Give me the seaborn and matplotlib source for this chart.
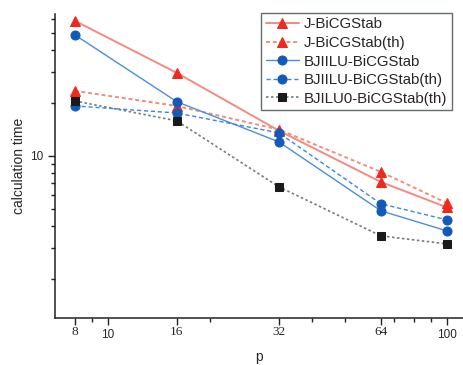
import matplotlib
matplotlib.use("Agg")
import matplotlib.pyplot as plt
import matplotlib.ticker as mticker
import seaborn as sns

sns.set_style("ticks")
plt.rcParams['font.family'] = ['Liberation Sans', 'DejaVu Sans']

# data (log-log)
p = [8, 16, 32, 64, 100]
j_bicg = [58.5, 29.6, 13.9, 7.1, 5.1]
j_bicg_th = [23.4, 19.2, 14.1, 8.1, 5.4]
bjiilu = [48.7, 20.3, 12.0, 4.87, 3.75]
bjiilu_th = [19.2, 17.5, 13.5, 5.34, 4.33]
bjilu0_th = [20.5, 15.8, 6.67, 3.51, 3.16]

labels = ["J-BiCGStab", "J-BiCGStab(th)", "BJIILU-BiCGStab",
          "BJIILU-BiCGStab(th)", "BJILU0-BiCGStab(th)"]
series = [j_bicg, j_bicg_th, bjiilu, bjiilu_th, bjilu0_th]
line_colors = ["#f48a80", "#f48a80", "#4a8ee0", "#3a86e0", "#6f7f7a"]
marker_colors = ["#ee2a1e", "#ee2a1e", "#1259b8", "#1259b8", "#1a1a1a"]
markers = ["^", "^", "o", "o", "s"]
styles = ["-", (0, (2, 1.5)), "-", (0, (3, 2)), (0, (1.5, 1.5))]
widths = [1.4, 1.4, 1.0, 1.0, 1.2]
msizes = [7.5, 7.5, 6.5, 6.5, 5.5]

fig = plt.figure(figsize=(4.64, 3.65), dpi=100)
ax = fig.add_axes([0.1185, 0.129, 0.88, 0.833])

for vals, lab, lc, mc, mk, ls, lw, ms in zip(series, labels, line_colors, marker_colors,
                                            markers, styles, widths, msizes):
    sns.lineplot(x=p, y=vals, ax=ax, label=lab, color=lc, linestyle=ls, linewidth=lw,
                 marker=mk, markersize=ms, markerfacecolor=mc, markeredgecolor=mc)

ax.set_xscale("log")
ax.set_yscale("log")
ax.set_xlim(7.0, 112)
ax.set_ylim(1.2, 64)

xt = [8, 10, 16, 32, 64, 100]
ax.xaxis.set_major_locator(mticker.FixedLocator(xt))
ax.xaxis.set_minor_locator(mticker.FixedLocator([9, 20, 40, 50, 70, 80, 90]))
ax.set_xticklabels([str(v) for v in xt])
for lbl, v in zip(ax.get_xticklabels(), xt):
    if v in (10, 100):
        lbl.set_fontsize(8.5)
        lbl.set_y(-0.01)
    else:
        lbl.set_family(['Liberation Serif', 'DejaVu Serif'])
        lbl.set_fontsize(9.5)

ax.yaxis.set_major_locator(mticker.FixedLocator([10]))
ax.yaxis.set_minor_locator(mticker.FixedLocator([2, 3, 4, 5, 6, 7, 8, 9, 20, 30, 40, 50, 60]))
ax.yaxis.set_minor_formatter(mticker.NullFormatter())
ax.set_yticklabels(["10"], fontsize=8.5)

ax.tick_params(which="major", length=5, width=1, direction="out", color="#222222")
ax.tick_params(which="minor", length=3, width=1, direction="out", color="#222222")
ax.tick_params(axis="x", pad=1)

sns.despine(ax=ax)
for s in ("left", "bottom"):
    ax.spines[s].set_linewidth(1.1)
    ax.spines[s].set_color("#222222")

ax.set_xlabel("p", fontsize=10, labelpad=6)
ax.set_ylabel("calculation time", fontsize=10, labelpad=3)

leg = ax.legend(loc="upper right", bbox_to_anchor=(452 / 464, 1 - 13 / 365),
                bbox_transform=fig.transFigure, fontsize=10.8,
                frameon=True, fancybox=False, numpoints=1, handlelength=2.2,
                borderpad=0.3, labelspacing=0.3, handletextpad=0.35,
                borderaxespad=0)
leg.get_frame().set_edgecolor("#3d4a48")
leg.get_frame().set_linewidth(1.0)

fig.savefig("out.png", dpi=100)
